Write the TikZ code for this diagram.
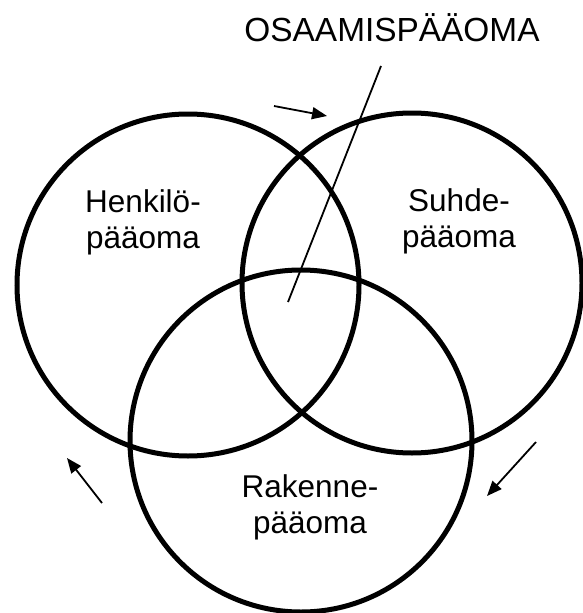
\documentclass[tikz,border=0pt]{standalone}
\usepackage{fontspec}
\setmainfont{Liberation Sans}
\usetikzlibrary{arrows.meta}
\tikzset{
  ympyra/.style={line width=5pt},
  osa/.style={align=center, font=\fontsize{31.5}{35.5}\selectfont, inner sep=0pt},
  nuoli/.style={line width=1.8pt, -{Triangle[length=15pt, width=12pt]}},
}
\begin{document}
\begin{tikzpicture}[x=1pt, y=-1pt]
  \useasboundingbox (0,0) rectangle (583,613);
  % Kolme ympyraa
  \coordinate (hk) at (188,285);
  \coordinate (sh) at (412,283);
  \coordinate (rk) at (301,441);
  \draw[ympyra] (hk) circle[radius=171pt];
  \draw[ympyra] (sh) circle[radius=170pt];
  \draw[ympyra] (rk) circle[radius=171pt];

  % Tekstit
  \node[osa, anchor=base] (henkilo) at (143,248) {Henkilö-\\pääoma};
  \node[osa, anchor=base] (suhde) at (459,247) {Suhde-\\pääoma};
  \node[osa, anchor=base] (rakenne) at (310,533) {Rakenne-\\pääoma};
  \node[osa, anchor=base, font=\fontsize{33.4}{38}\selectfont] (osaaminen) at (392,41) {OSAAMISPÄÄOMA};

  % Viiva keskelle
  \coordinate (viiva1) at (381,66);
  \coordinate (viiva2) at (288,302);
  \draw[line width=1.8pt] (viiva1) -- (viiva2);

  % Nuolet
  \coordinate (n1a) at (274,106); \coordinate (n1b) at (327,116);
  \coordinate (n2a) at (536,442); \coordinate (n2b) at (487,496);
  \coordinate (n3a) at (102,503); \coordinate (n3b) at (67,458);
  \draw[nuoli] (n1a) -- (n1b);
  \draw[nuoli] (n2a) -- (n2b);
  \draw[nuoli] (n3a) -- (n3b);
\end{tikzpicture}
\end{document}
